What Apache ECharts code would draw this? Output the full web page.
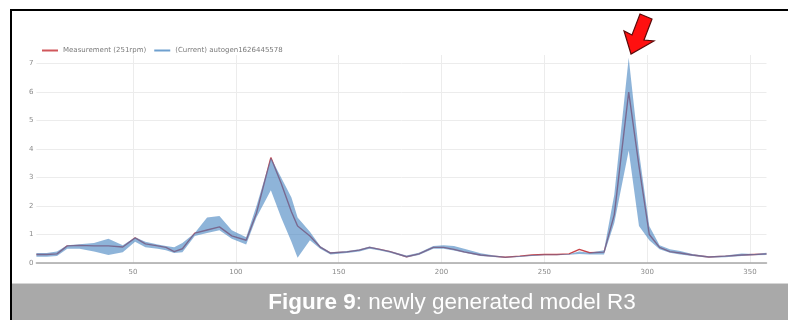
<!DOCTYPE html>
<html>
<head>
<meta charset="utf-8">
<title>Figure 9: newly generated model R3</title>
<script src="https://cdn.jsdelivr.net/npm/echarts@6/dist/echarts.min.js"></script>
<style>
  html, body { margin: 0; padding: 0; background: #ffffff; }
  #chart { width: 788px; height: 320px; }
</style>
</head>
<body>
<div id="chart"></div>
<script>
// Order axis positions (shared by all three traces)
const orders = [3, 8, 13, 18, 24, 31, 38, 45, 51, 56, 62, 66, 70, 74, 80, 86, 92, 98, 105, 110,
  117, 122, 127, 130, 136, 141, 146, 154, 160, 165, 170, 175, 183, 189, 196, 201, 206, 211, 219, 225,
  231, 238, 244, 250, 256, 262, 267, 272, 279, 284, 291, 296, 301, 306, 311, 316, 322, 330, 338, 346,
  352, 358];

// Measured amplitude at 251 rpm
const measurement = [0.30, 0.30, 0.32, 0.60, 0.62, 0.60, 0.60, 0.56, 0.88, 0.67, 0.60, 0.55, 0.40, 0.50, 1.05, 1.16, 1.27, 0.95, 0.80, 1.75,
  3.70, 2.80, 1.80, 1.30, 0.95, 0.56, 0.35, 0.39, 0.45, 0.55, 0.48, 0.40, 0.22, 0.32, 0.55, 0.55, 0.48, 0.39, 0.28, 0.24,
  0.20, 0.24, 0.28, 0.30, 0.30, 0.32, 0.48, 0.36, 0.38, 1.70, 6.00, 3.40, 1.00, 0.55, 0.40, 0.35, 0.28, 0.21, 0.24, 0.28,
  0.30, 0.32];

// Model envelope: upper and lower bounds
const modelUpper = [0.35, 0.35, 0.40, 0.62, 0.66, 0.70, 0.85, 0.62, 0.90, 0.75, 0.65, 0.60, 0.55, 0.70, 1.05, 1.60, 1.65, 1.15, 0.90, 2.00,
  3.70, 3.00, 2.30, 1.60, 1.10, 0.60, 0.38, 0.42, 0.48, 0.58, 0.50, 0.42, 0.26, 0.36, 0.60, 0.62, 0.60, 0.50, 0.34, 0.27,
  0.22, 0.25, 0.28, 0.30, 0.30, 0.32, 0.40, 0.36, 0.45, 2.40, 7.20, 3.90, 1.30, 0.62, 0.48, 0.42, 0.32, 0.24, 0.26, 0.33,
  0.32, 0.36];
const modelLower = [0.22, 0.22, 0.25, 0.50, 0.50, 0.40, 0.28, 0.38, 0.75, 0.55, 0.50, 0.45, 0.35, 0.38, 0.95, 1.05, 1.15, 0.85, 0.65, 1.60,
  2.55, 1.60, 0.75, 0.18, 0.80, 0.50, 0.30, 0.35, 0.40, 0.50, 0.44, 0.36, 0.19, 0.28, 0.50, 0.50, 0.44, 0.36, 0.25, 0.21,
  0.18, 0.21, 0.25, 0.27, 0.27, 0.29, 0.32, 0.30, 0.30, 1.40, 3.95, 1.30, 0.80, 0.48, 0.36, 0.30, 0.25, 0.18, 0.20, 0.25,
  0.27, 0.28];

const xTicks = [50, 100, 150, 200, 250, 300, 350];
const yTicks = [0, 1, 2, 3, 4, 5, 6, 7];

const measName = 'Measurement (251rpm)';
const modelName = '(Current) autogen1626445578';

const tickFont = { fontFamily: 'DejaVu Sans', fontSize: 7, color: '#8a8a8a' };

// envelope rows: [order, lower, upper]
const envelope = orders.map((x, i) => [x, modelLower[i], modelUpper[i]]);

// Draws the whole envelope as one closed polygon (upper edge forward, lower edge back)
function renderEnvelope(params, api) {
  if (params.dataIndex !== 0) return null;
  const upperPts = envelope.map(r => api.coord([r[0], r[2]]));
  const lowerPts = envelope.map(r => api.coord([r[0], r[1]])).reverse();
  return {
    type: 'polygon',
    shape: { points: upperPts.concat(lowerPts) },
    style: { fill: 'rgba(66, 130, 192, 0.6)', stroke: null }
  };
}

const chart = echarts.init(document.getElementById('chart'), null, { renderer: 'canvas' });

chart.setOption({
  backgroundColor: '#ffffff',
  animation: false,
  legend: {
    left: 37,
    top: 42,
    itemWidth: 16,
    itemHeight: 2,
    itemGap: 8,
    icon: 'rect',
    textStyle: { fontFamily: 'DejaVu Sans', fontSize: 7, color: '#7a7a7a' },
    data: [
      { name: measName, itemStyle: { color: '#d0575b' } },
      { name: modelName, itemStyle: { color: '#6fa0cf' } }
    ]
  },
  grid: { left: 36.4, right: 21.5, top: 55, bottom: 57, containLabel: false },
  xAxis: {
    type: 'value',
    min: 3,
    max: 358,
    axisLine: { show: true, onZero: false, lineStyle: { color: '#a8a8a8', width: 1.5 } },
    axisTick: { show: false, customValues: xTicks },
    axisLabel: { ...tickFont, margin: 6, customValues: xTicks },
    splitLine: { show: true, lineStyle: { color: '#ececec', width: 1 } }
  },
  yAxis: {
    type: 'value',
    min: 0,
    max: 7.3,
    axisLine: { show: false },
    axisTick: { show: false, customValues: yTicks },
    axisLabel: { ...tickFont, margin: 3, customValues: yTicks },
    splitLine: { show: true, lineStyle: { color: '#ececec', width: 1 } }
  },
  series: [
    {
      name: measName,
      type: 'line',
      data: orders.map((x, i) => [x, measurement[i]]),
      symbol: 'none',
      lineStyle: { color: '#c9444a', width: 1.4 },
      itemStyle: { color: '#d0575b' },
      z: 2
    },
    {
      name: modelName,
      type: 'custom',
      data: envelope,
      encode: { x: 0, y: [1, 2] },
      renderItem: renderEnvelope,
      itemStyle: { color: '#6fa0cf' },
      clip: true,
      silent: true,
      z: 3
    }
  ],
  graphic: [
    // outer frame (top and left edges)
    { type: 'rect', shape: { x: 10, y: 9, width: 778, height: 2 }, style: { fill: '#000000' }, silent: true },
    { type: 'rect', shape: { x: 10, y: 9, width: 2, height: 311 }, style: { fill: '#000000' }, silent: true },
    // caption band
    { type: 'rect', shape: { x: 12, y: 284, width: 776, height: 36 }, style: { fill: '#a9a9a9' }, silent: true },
    { type: 'rect', shape: { x: 12, y: 283, width: 776, height: 1 }, style: { fill: '#d6d6d6' }, silent: true },
    {
      type: 'text',
      x: 452,
      y: 303,
      silent: true,
      style: {
        text: '{b|Figure 9}{n|: newly generated model R3}',
        align: 'center',
        verticalAlign: 'middle',
        rich: {
          b: { fontFamily: 'Liberation Sans', fontSize: 22.5, fontWeight: 'bold', fill: '#ffffff' },
          n: { fontFamily: 'Liberation Sans', fontSize: 22.5, fill: '#ffffff' }
        }
      }
    },
    // callout arrow pointing at the main resonance
    {
      type: 'polygon',
      silent: true,
      shape: {
        points: [[631, 54], [624, 31], [632, 35], [640, 14], [652, 19], [644, 40], [654, 41]]
      },
      style: { fill: '#ff1010', stroke: '#5a0a0a', lineWidth: 1.2, lineJoin: 'miter' }
    }
  ]
});
</script>
</body>
</html>
